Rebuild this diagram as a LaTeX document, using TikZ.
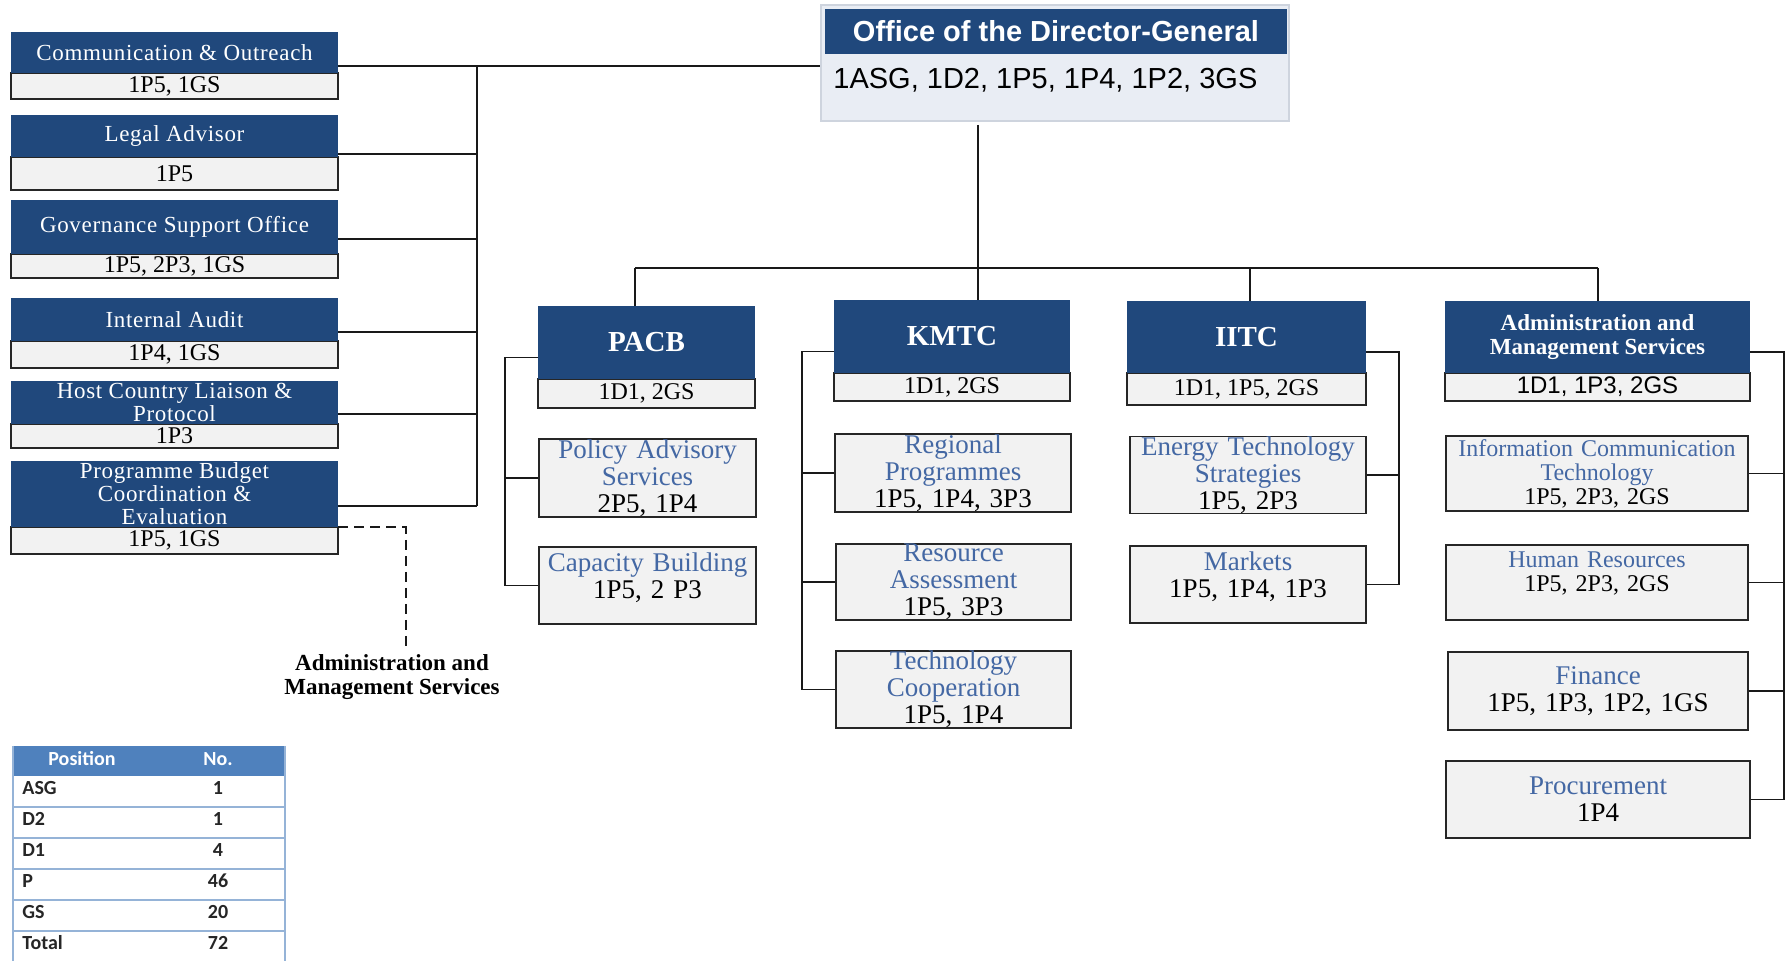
\documentclass[tikz,border=0pt]{standalone}
\usepackage{fontspec}
\setmainfont{Liberation Serif}
\newfontfamily\dgfont{Liberation Sans}
\newfontfamily\tblfont{Carlito}
\newfontfamily\wideserif[LetterSpace=3]{Liberation Serif}
\usetikzlibrary{calc, positioning}

\definecolor{hdblue}{RGB}{32,72,124}
\definecolor{boxgray}{RGB}{242,242,242}
\definecolor{subblue}{RGB}{68,104,164}
\definecolor{dgbody}{RGB}{233,237,244}
\definecolor{dgframe}{RGB}{206,212,222}
\definecolor{tblhead}{RGB}{79,129,189}
\definecolor{tblline}{RGB}{149,179,215}

\tikzset{
    headbox/.style={fill=hdblue, text=white, inner sep=0pt, align=center},
    bodybox/.style={fill=boxgray, draw=black!85, line width=0.8pt, inner sep=0pt, align=center},
    sidehead/.style={headbox, font=\wideserif\fontsize{11.5}{11.5}\selectfont},
    sidebody/.style={bodybox, font=\fontsize{12}{12}\selectfont},
    mainhead/.style={headbox, font=\bfseries\fontsize{14.5}{14.5}\selectfont},
    mainbody/.style={bodybox, font=\fontsize{12}{12}\selectfont},
    amshead/.style={headbox, font=\bfseries\fontsize{11.5}{12}\selectfont},
    amsbody/.style={bodybox, font=\dgfont\fontsize{12}{12}\selectfont},
    subbox/.style={bodybox, font=\fontsize{13.5}{13.5}\selectfont},
    smallsub/.style={font=\fontsize{12}{12}\selectfont},
    lifted/.style={text depth=23pt},
    link/.style={line width=0.9pt, black!90},
    tblcell/.style={font=\tblfont\bfseries\fontsize{10}{10}\selectfont, inner sep=0pt, text=black!85},
    tblrule/.style={line width=0.8pt, tblline},
}

% style prefix, name, left, top, right, split, bottom, title, staff
\newcommand{\orgunit}[9]{
    \node[#1body, minimum width={(#5-#3)*0.5pt}, minimum height={(#7-#6)*0.5pt}] (#2-b) at ({(#3+#5)/2}, {(#6+#7)/2}) {#9};
    \node[#1head, minimum width={(#5-#3)*0.5pt}, minimum height={(#6-#4)*0.5pt}] (#2) at ({(#3+#5)/2}, {(#4+#6)/2}) {#8};
}
% [style], name, left, top, right, bottom, title, staff
\newcommand{\orgsub}[8][]{
    \pgfmathsetmacro{\subw}{(#5-#3)*0.5-6}
    \node[subbox, #1, text width=\subw pt, minimum width={(#5-#3)*0.5pt}, minimum height={(#6-#4)*0.5pt}] (#2) at ({(#3+#5)/2}, {(#4+#6)/2}) {{\color{subblue}#7}\\#8};
}

\begin{document}
\begin{tikzpicture}[x=0.5pt, y=-0.5pt]
    \fill[white] (0,0) rectangle (1788,961);
    \useasboundingbox (0,0) rectangle (1788,961);

    \node[draw=dgframe, fill=dgbody, line width=1pt, inner sep=0pt, minimum width={(1289-821)*0.5pt}, minimum height={(121-5)*0.5pt}] (dg) at (1055,63) {};
    \node[headbox, minimum width={(1287-825)*0.5pt}, minimum height={(54-9)*0.5pt}, font=\dgfont\bfseries\fontsize{14.5}{14.5}\selectfont] (dg-h) at (1056,31.5) {Office of the Director-General};
    \node[anchor=west, inner sep=0pt, font=\dgfont\fontsize{14.5}{14.5}\selectfont] (dg-b) at (833,80) {1ASG, 1D2, 1P5, 1P4, 1P2, 3GS};

    \orgunit{side}{comm}{11}{32}{338}{73}{99}{Communication \& Outreach}{1P5, 1GS}
    \orgunit{side}{legal}{11}{115}{338}{157}{190}{Legal Advisor}{1P5}
    \orgunit{side}{gov}{11}{200}{338}{254}{278}{Governance Support Office}{1P5, 2P3, 1GS}
    \orgunit{side}{audit}{11}{298}{338}{341}{368}{Internal Audit}{1P4, 1GS}
    \orgunit{side}{host}{11}{381}{338}{424}{448}{Host Country Liaison \&\\Protocol}{1P3}
    \orgunit{side}{pbce}{11}{461}{338}{527}{554}{Programme Budget\\Coordination \&\\Evaluation}{1P5, 1GS}

    \orgunit{main}{pacb}{538}{306}{755}{379}{408}{PACB}{1D1, 2GS}
    \orgunit{main}{kmtc}{834}{300}{1070}{373}{401}{KMTC}{1D1, 2GS}
    \orgunit{main}{iitc}{1127}{301}{1366}{373}{405}{IITC}{1D1, 1P5, 2GS}
    \orgunit{ams}{ams}{1445}{301}{1750}{373}{401}{Administration and\\Management Services}{1D1, 1P3, 2GS}

    \orgsub{pas}{539}{439}{756}{517}{Policy Advisory\\Services}{2P5, 1P4}
    \orgsub[lifted]{cap}{539}{547}{756}{624}{Capacity Building}{1P5, 2 P3}
    \orgsub{rp}{835}{434}{1071}{512}{Regional\\Programmes}{1P5, 1P4, 3P3}
    \orgsub{ra}{836}{544}{1071}{620}{Resource\\Assessment}{1P5, 3P3}
    \orgsub{tc}{836}{651}{1071}{728}{Technology\\Cooperation}{1P5, 1P4}
    \orgsub{ets}{1130}{437}{1366}{513}{Energy Technology\\Strategies}{1P5, 2P3}
    \orgsub[lifted]{mkt}{1130}{546}{1366}{623}{Markets}{1P5, 1P4, 1P3}
    \orgsub[smallsub]{ict}{1446}{436}{1748}{511}{Information Communication\\Technology}{1P5, 2P3, 2GS}
    \orgsub[smallsub, lifted]{hr}{1446}{545}{1748}{620}{Human Resources}{1P5, 2P3, 2GS}
    \orgsub{fin}{1448}{652}{1748}{730}{Finance}{1P5, 1P3, 1P2, 1GS}
    \orgsub{proc}{1446}{761}{1750}{838}{Procurement}{1P4}

    \foreach \n/\y in {comm/66, legal/154, gov/239, audit/332, host/414, pbce/506} {
        \coordinate (lb-\n) at (477,\y);
        \draw[link] (\n.east |- lb-\n) -- (lb-\n);
    }
    \draw[link] (lb-comm) -- (lb-pbce);
    \draw[link] (lb-comm) -- (dg.west |- lb-comm);

    \node[font=\bfseries\fontsize{11.5}{12}\selectfont, align=center, inner sep=0pt] (ams-note) at (392,677) {Administration and\\Management Services};
    \coordinate (dash-end) at (406,647);
    \draw[link, dash pattern=on 5pt off 3pt] (pbce.south east) -| (dash-end);

    \coordinate (dg-stem) at (978,125);
    \coordinate (bus-l) at (635,268);
    \coordinate (bus-r) at (1598,268);
    \draw[link] (dg-stem) -- (dg-stem |- bus-l);
    \draw[link] (bus-l) -- (bus-r);
    \foreach \n/\x in {pacb/635, kmtc/978, iitc/1250, ams/1598} {
        \coordinate (drop-\n) at (\x,268);
        \draw[link] (drop-\n) -- (drop-\n |- \n.north);
    }

    \coordinate (br-pacb) at (505,0);
    \draw[link] ([yshift=-7.5pt]pacb.west) -| (br-pacb |- cap.west) -- (cap.west);
    \draw[link] (br-pacb |- pas.west) -- (pas.west);

    \coordinate (br-kmtc) at (802,0);
    \draw[link] ([yshift=-7.5pt]kmtc.west) -| (br-kmtc |- tc.west) -- (tc.west);
    \foreach \s in {rp, ra}
        \draw[link] (br-kmtc |- \s.west) -- (\s.west);

    \coordinate (br-iitc) at (1399,0);
    \draw[link] ([yshift=-7.5pt]iitc.east) -| (br-iitc |- mkt.east) -- (mkt.east);
    \draw[link] (br-iitc |- ets.east) -- (ets.east);

    \coordinate (br-ams) at (1784,0);
    \draw[link] ([yshift=-7.5pt]ams.east) -| (br-ams |- proc.east) -- (proc.east);
    \foreach \s in {ict, hr, fin}
        \draw[link] (br-ams |- \s.east) -- (\s.east);

    \node[fill=tblhead, inner sep=0pt, minimum width={(285-13)*0.5pt}, minimum height={(776-746)*0.5pt}] (tbl-h) at (149,761) {};
    \node[tblcell, text=white] (tbl-pos) at (82,759) {Position};
    \node[tblcell, text=white] (tbl-no) at (218,759) {No.};
    \foreach \p/\v [count=\i] in {ASG/1, D2/1, D1/4, P/46, GS/20, Total/72} {
        \node[tblcell, anchor=west] (pos-\i) at (22,{776+31*(\i-1)+12}) {\p};
        \node[tblcell] (no-\i) at (218,{776+31*(\i-1)+12}) {\v};
    }
    \foreach \i in {1,...,5}
        \draw[tblrule] (13,{776+31*\i}) -- (285,{776+31*\i});
    \draw[tblrule] (13,746) -- (13,961);
    \draw[tblrule] (285,746) -- (285,961);
\end{tikzpicture}
\end{document}
